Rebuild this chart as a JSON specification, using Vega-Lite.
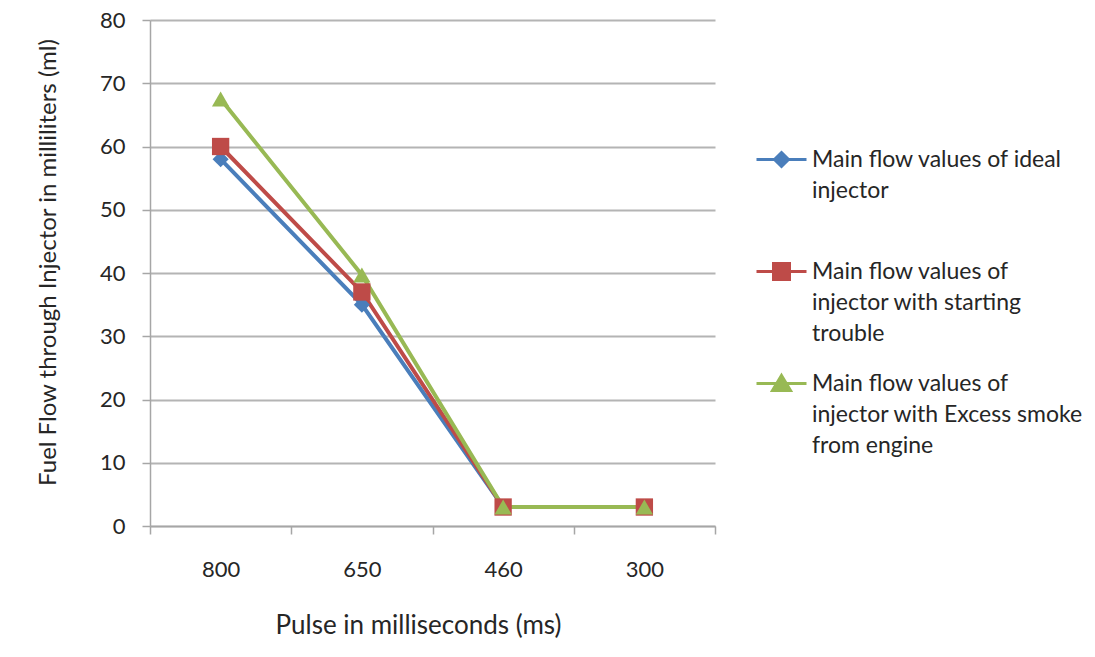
{
  "$schema": "https://vega.github.io/schema/vega-lite/v6.json",
  "autosize": "none",
  "width": 565,
  "height": 506,
  "padding": {"left": 150, "top": 20, "right": 380, "bottom": 131},
  "background": "white",
  "config": {
    "view": {"stroke": null},
    "font": "Lato",
    "axis": {"labelFont": "Lato", "titleFont": "Lato", "labelColor": "#262626", "titleColor": "#262626", "titleFontWeight": "normal"}
  },
  "data": {
    "values": [
      {"pulse": "800", "series": "Main flow values of ideal injector", "flow": 58},
      {"pulse": "650", "series": "Main flow values of ideal injector", "flow": 35},
      {"pulse": "460", "series": "Main flow values of ideal injector", "flow": 3},
      {"pulse": "300", "series": "Main flow values of ideal injector", "flow": 3},
      {"pulse": "800", "series": "Main flow values of injector with starting trouble", "flow": 60},
      {"pulse": "650", "series": "Main flow values of injector with starting trouble", "flow": 37},
      {"pulse": "460", "series": "Main flow values of injector with starting trouble", "flow": 3},
      {"pulse": "300", "series": "Main flow values of injector with starting trouble", "flow": 3},
      {"pulse": "800", "series": "Main flow values of injector with Excess smoke from engine", "flow": 67.5},
      {"pulse": "650", "series": "Main flow values of injector with Excess smoke from engine", "flow": 39.7},
      {"pulse": "460", "series": "Main flow values of injector with Excess smoke from engine", "flow": 3},
      {"pulse": "300", "series": "Main flow values of injector with Excess smoke from engine", "flow": 3}
    ]
  },
  "encoding": {
    "x": {
      "field": "pulse",
      "type": "ordinal",
      "sort": ["800", "650", "460", "300"],
      "scale": {"type": "band", "paddingInner": 0, "paddingOuter": 0},
      "axis": {
        "title": "Pulse in milliseconds (ms)",
        "titleFontSize": 26,
        "titleX": 268,
        "titleY": 99,
        "titleBaseline": "middle",
        "labelAngle": 0,
        "labelFontSize": 22,
        "labelPadding": 25,
        "tickBand": "extent",
        "tickSize": 8,
        "tickColor": "#a6a6a6",
        "tickWidth": 1.5,
        "domainColor": "#a6a6a6",
        "domainWidth": 1.5,
        "grid": false
      }
    },
    "y": {
      "field": "flow",
      "type": "quantitative",
      "scale": {"domain": [0, 80], "nice": false, "zero": true},
      "axis": {
        "title": "Fuel Flow through Injector in milliliters (ml)",
        "titleFontSize": 24,
        "titleX": -102,
        "titleY": 242,
        "titleAngle": 270,
        "titleBaseline": "middle",
        "values": [0, 10, 20, 30, 40, 50, 60, 70, 80],
        "labelFontSize": 22,
        "labelPadding": 17,
        "tickSize": 8,
        "tickColor": "#a6a6a6",
        "tickWidth": 1.5,
        "domainColor": "#a6a6a6",
        "domainWidth": 1.5,
        "grid": true,
        "gridColor": "#b4b4b4",
        "gridWidth": 2
      }
    },
    "color": {
      "field": "series",
      "type": "nominal",
      "scale": {
        "domain": [
          "Main flow values of ideal injector",
          "Main flow values of injector with starting trouble",
          "Main flow values of injector with Excess smoke from engine"
        ],
        "range": ["#4a7ebb", "#be4b48", "#98b954"]
      },
      "legend": null
    }
  },
  "layer": [
    {
      "mark": {"type": "line", "strokeWidth": 4},
      "encoding": {
        "color": {
          "field": "series",
          "type": "nominal",
          "legend": {
            "orient": "none",
            "legendX": 605,
            "legendY": 113,
            "title": null,
            "symbolSize": 2500,
            "labelFontSize": 23,
            "labelFont": "Lato",
            "labelColor": "#262626",
            "labelOffset": 4,
            "labelLimit": 400,
            "rowPadding": 11,
            "labelExpr": "indexof(datum.label,'ideal')>=0 ? ['Main flow values of ideal','injector',''] : indexof(datum.label,'starting')>=0 ? ['Main flow values of','injector with  starting','trouble'] : ['Main flow values of','injector with  Excess smoke','from engine']",
            "encode": {
              "labels": {"update": {"lineHeight": {"value": 31}, "baseline": {"value": "line-top"}, "dy": {"value": -15}}},
              "symbols": {
                "update": {
                  "shape": {"signal": "indexof(datum.value,'ideal')>=0 ? 'M-1,0H1M0,-0.28L0.28,0L0,0.28L-0.28,0Z' : indexof(datum.value,'starting')>=0 ? 'M-1,0H1M-0.32,-0.32H0.32V0.32H-0.32Z' : 'M-1,0H1M0,-0.32L0.36,0.28H-0.36Z'"},
                  "fill": {"scale": "color", "field": "value"},
                  "stroke": {"scale": "color", "field": "value"},
                  "strokeWidth": {"value": 3},
                  "opacity": {"value": 1}
                }
              }
            }
          }
        }
      }
    },
    {
      "transform": [{"filter": "indexof(datum.series,'ideal')>=0"}],
      "mark": {"type": "point", "filled": true, "opacity": 1, "shape": "diamond", "size": 260}
    },
    {
      "transform": [{"filter": "indexof(datum.series,'starting')>=0"}],
      "mark": {"type": "point", "filled": true, "opacity": 1, "shape": "square", "size": 300}
    },
    {
      "transform": [{"filter": "indexof(datum.series,'Excess')>=0"}],
      "mark": {"type": "point", "filled": true, "opacity": 1, "shape": "triangle-up", "size": 300}
    }
  ]
}
